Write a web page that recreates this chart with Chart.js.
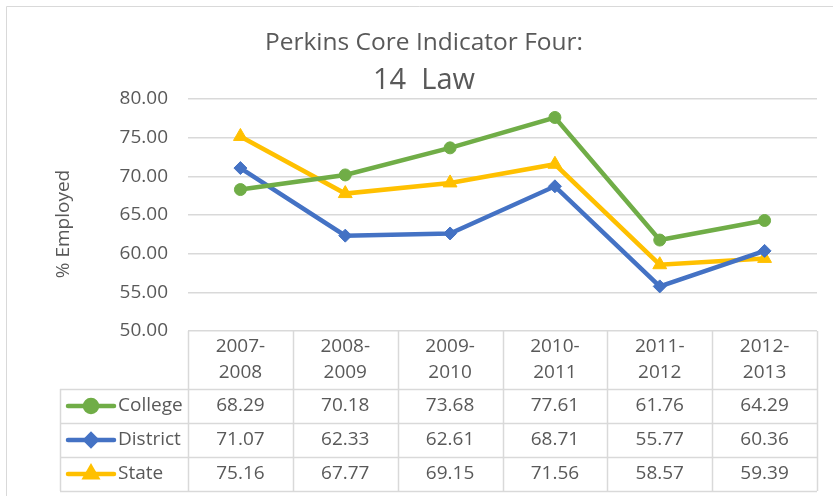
<!DOCTYPE html>
<html>
<head>
<meta charset="utf-8">
<script src="https://cdn.jsdelivr.net/npm/chart.js@4"></script>
<style>
  html, body { margin: 0; padding: 0; background: #fff; }
  #wrap { position: relative; width: 833px; height: 496px; }
</style>
</head>
<body>
<div id="wrap"><canvas id="lawChart" width="833" height="496"></canvas></div>
<script>
// ===== data =====
const years = [['2007-', '2008'], ['2008-', '2009'], ['2009-', '2010'], ['2010-', '2011'], ['2011-', '2012'], ['2012-', '2013']];
const college = [68.29, 70.18, 73.68, 77.61, 61.76, 64.29];
const district = [71.07, 62.33, 62.61, 68.71, 55.77, 60.36];
const state = [75.16, 67.77, 69.15, 71.56, 58.57, 59.39];
const seriesNames = ['College', 'District', 'State'];
const seriesColors = ['#70ad47', '#4472c4', '#ffc000'];
const seriesMarkers = ['circle', 'rectRot', 'triangle'];
const titleLines = ['Perkins Core Indicator Four:', '14  Law'];
const yTitle = '% Employed';

const textColor = '#595959';
const gridColor = '#d9d9d9';
const numFont = '19px "Open Sans", sans-serif';
const tableLeft = 60;
const headerH = 58;
const rowH = 34;

const seriesData = [college, district, state];
const markerRadius = [6, 6.5, 8];
const keyRadius = [6, 5.5, 6.5];

// title, axis title, outer border and the data table below the plot
const tablePlugin = {
    id: 'tablePlugin',
    afterDraw(chart) {
        const ctx = chart.ctx;
        const area = chart.chartArea;
        const x = chart.scales.x;
        const colW = (area.right - area.left) / years.length;
        ctx.save();

        // outer border
        ctx.strokeStyle = gridColor;
        ctx.lineWidth = 1;
        ctx.beginPath();
        ctx.moveTo(6.5, 496);
        ctx.lineTo(6.5, 6.5);
        ctx.lineTo(833, 6.5);
        ctx.stroke();

        // title
        ctx.fillStyle = textColor;
        ctx.textAlign = 'center';
        ctx.textBaseline = 'middle';
        ctx.font = '24.5px "Open Sans", sans-serif';
        ctx.fillText(titleLines[0], 424, 43);
        ctx.font = '29px "Open Sans", sans-serif';
        ctx.fillText(titleLines[1], 424, 81);

        // y axis title
        ctx.save();
        ctx.translate(64, 224);
        ctx.rotate(-Math.PI / 2);
        ctx.font = numFont;
        ctx.fillText(yTitle, 0, 0);
        ctx.restore();

        // table grid
        const top = area.bottom;
        const rowTop = top + headerH;
        const bottom = rowTop + rowH * seriesNames.length;
        ctx.strokeStyle = gridColor;
        ctx.lineWidth = 1.5;
        ctx.beginPath();
        for (let i = 0; i <= years.length; i++) {
            const gx = Math.round(area.left + i * colW) + 0.5;
            ctx.moveTo(gx, top);
            ctx.lineTo(gx, bottom);
        }
        ctx.moveTo(tableLeft + 0.5, rowTop);
        ctx.lineTo(tableLeft + 0.5, bottom);
        for (let r = 0; r <= seriesNames.length; r++) {
            const gy = Math.round(rowTop + r * rowH) + 0.5;
            ctx.moveTo(tableLeft, gy);
            ctx.lineTo(area.right, gy);
        }
        ctx.stroke();

        // header labels
        ctx.fillStyle = textColor;
        ctx.font = numFont;
        years.forEach((lbl, i) => {
            const cx = x.getPixelForValue(i);
            ctx.fillText(lbl[0], cx, top + 16);
            ctx.fillText(lbl[1], cx, top + 42);
        });

        // rows with legend keys
        seriesNames.forEach((name, r) => {
            const cy = rowTop + r * rowH + rowH / 2;
            ctx.strokeStyle = seriesColors[r];
            ctx.lineWidth = 4.5;
            ctx.lineCap = 'round';
            ctx.beginPath();
            ctx.moveTo(68, cy);
            ctx.lineTo(114, cy);
            ctx.stroke();
            Chart.helpers.drawPoint(ctx, {
                pointStyle: seriesMarkers[r],
                radius: keyRadius[r],
                borderWidth: 1
            }, 91, cy);
            ctx.fillStyle = seriesColors[r];
            ctx.fill();

            ctx.fillStyle = textColor;
            ctx.textAlign = 'left';
            ctx.fillText(name, 118, cy);
            ctx.textAlign = 'center';
            seriesData[r].forEach((v, i) => {
                ctx.fillText(v.toFixed(2), x.getPixelForValue(i), cy);
            });
        });
        ctx.restore();
    }
};

new Chart(document.getElementById('lawChart'), {
    type: 'line',
    data: {
        labels: years.map(l => l.join('')),
        datasets: seriesNames.map((name, i) => ({
            label: name,
            data: seriesData[i],
            borderColor: seriesColors[i],
            backgroundColor: seriesColors[i],
            borderWidth: 4.5,
            pointStyle: seriesMarkers[i],
            pointRadius: markerRadius[i],
            pointBorderWidth: 1,
            tension: 0
        }))
    },
    options: {
        responsive: false,
        animation: false,
        layout: { padding: { top: 99, bottom: 165, left: 0, right: 16 } },
        plugins: {
            legend: { display: false },
            title: { display: false },
            tooltip: { enabled: false }
        },
        scales: {
            x: { display: false, offset: true },
            y: {
                min: 50,
                max: 80,
                afterFit: (scale) => { scale.width = 188; },
                border: { display: false },
                grid: { color: gridColor, lineWidth: 1.5, drawTicks: false },
                ticks: {
                    stepSize: 5,
                    padding: 20,
                    color: textColor,
                    font: { family: '"Open Sans", sans-serif', size: 19 },
                    callback: (v) => v.toFixed(2)
                }
            }
        }
    },
    plugins: [tablePlugin]
});
</script>
</body>
</html>
